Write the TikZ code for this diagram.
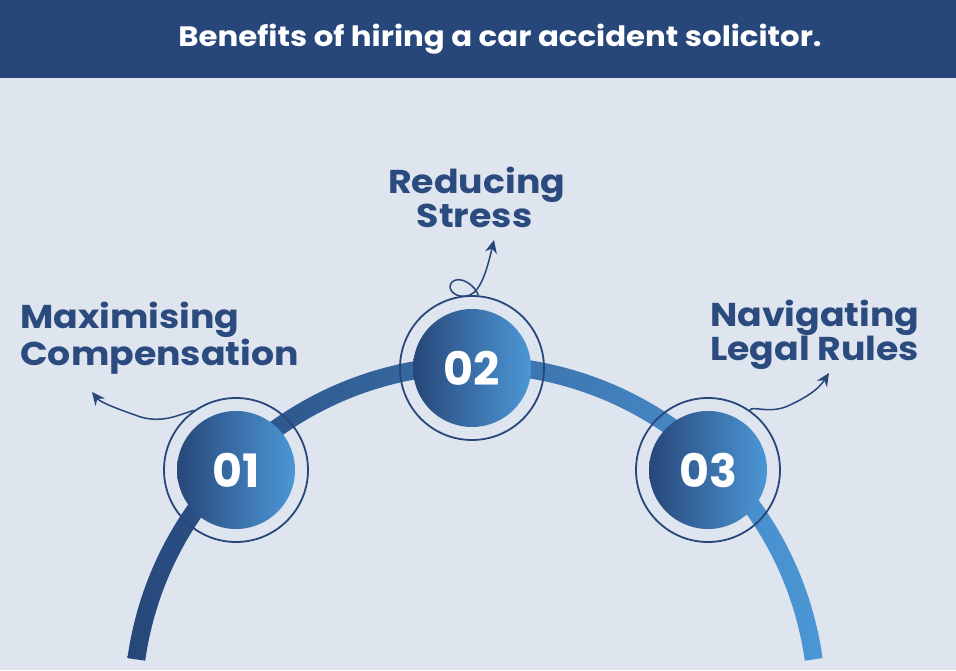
\documentclass[tikz,border=0pt]{standalone}
\usepackage{fontspec}
\setmainfont{Poppins}
\usetikzlibrary{arrows.meta}
\definecolor{dk}{HTML}{27477A}
\definecolor{lt}{HTML}{4C97D6}
\definecolor{bg}{HTML}{DFE5EF}
\definecolor{tx}{HTML}{2B4A7E}
\tikzset{
  numc/.style={circle,minimum size=118pt,inner sep=0pt,left color=dk,right color=lt,text=white,font=\fontsize{46}{46}\selectfont\bfseries},
  ringc/.style={circle,draw=dk,line width=1.8pt,minimum size=144pt,inner sep=0pt},
  lab/.style={text=tx,font=\fontsize{33}{34}\selectfont\bfseries,align=left,inner sep=0pt,xscale=1.1,transform shape},
  curl/.style={draw=dk,line width=1.5pt,-{Stealth[length=13pt,width=12pt]}}
}
\begin{document}
\begin{tikzpicture}[x=1pt,y=1pt]
\useasboundingbox (0,0) rectangle (956,670);
\fill[bg] (0,0) rectangle (956,670);
\begin{scope}
\clip (0,0) rectangle (956,592);
\shade[left color=dk,right color=lt] (475,-37) ++(172:351) arc[start angle=172,end angle=8,radius=351] -- ++(188:18) arc[start angle=8,end angle=172,radius=333] -- cycle;
\end{scope}
\fill[dk] (0,592) rectangle (956,670);
\node[text=white,font=\fontsize{28}{28}\selectfont\bfseries,xscale=1.1,transform shape] (t) at (500,631) {Benefits of hiring a car accident solicitor.};
\node[ringc] (r1) at (236,200) {};
\node[ringc] (r2) at (472,302) {};
\node[ringc] (r3) at (708,200) {};
\node[numc] (n1) at (236,200) {01};
\node[numc] (n2) at (472,302) {02};
\node[numc] (n3) at (708,200) {03};
\node[lab,anchor=west] (l1) at (20,332) {Maximising\\Compensation};
\node[lab,anchor=west] (l2) at (388,473) {Reducing\\\hspace*{26pt}Stress};
\node[lab,anchor=west] (l3) at (710,335) {Navigating\\Legal Rules};
\coordinate (a1) at (92,278);
\coordinate (a2) at (494,430);
\coordinate (a3) at (829,297);
\draw[curl] (r1.125) .. controls (178,255) and (160,245) .. (135,255) .. controls (115,262) and (100,268) .. (a1);
\draw[curl] (r2.85) .. controls (475,385) and (460,395) .. (452,388) .. controls (445,380) and (458,370) .. (470,375) .. controls (482,380) and (488,405) .. (a2);
\draw[curl] (r3.55) .. controls (752,265) and (770,255) .. (790,265) .. controls (805,272) and (818,280) .. (a3);
\end{tikzpicture}
\end{document}
